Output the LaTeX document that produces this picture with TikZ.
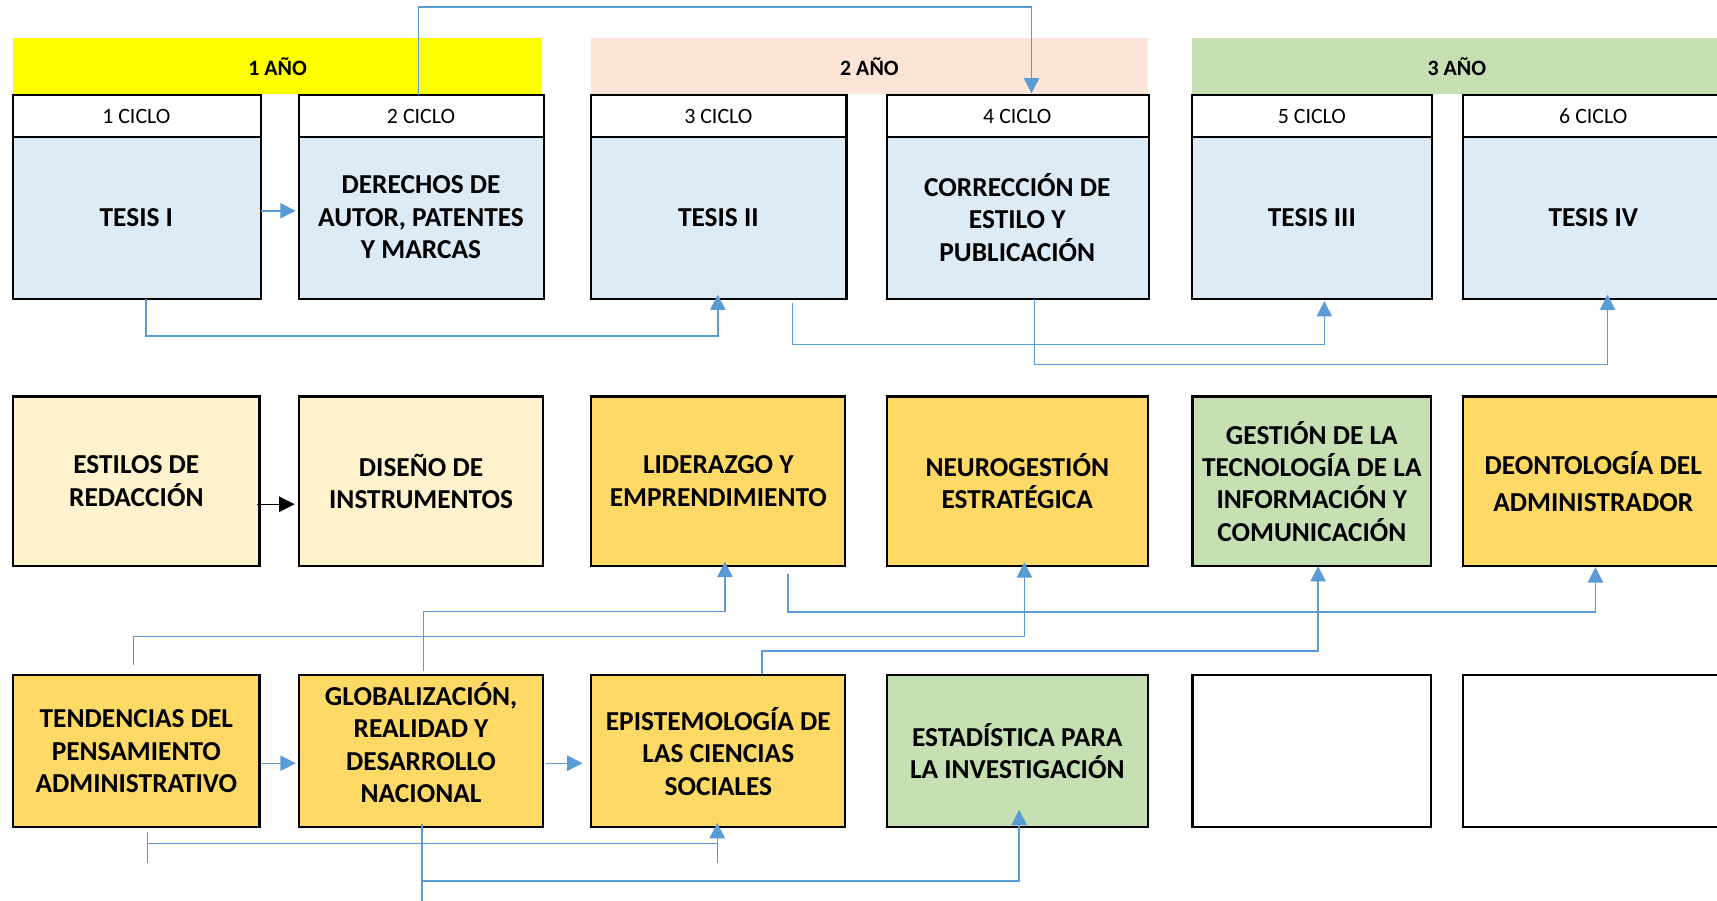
\documentclass[tikz,border=0pt]{standalone}
\usepackage{fontspec}
\setmainfont{Carlito}
\usetikzlibrary{arrows.meta}
\definecolor{bandY}{HTML}{FFFF00}
\definecolor{bandP}{HTML}{FCE4D6}
\definecolor{bandG}{HTML}{C6E0B4}
\definecolor{cblue}{HTML}{DDEBF7}
\definecolor{cpale}{HTML}{FFF2CC}
\definecolor{cgold}{HTML}{FFD966}
\definecolor{cgreen}{HTML}{C6E0B4}
\definecolor{lnblue}{HTML}{5B9BD5}
\begin{document}
\begin{tikzpicture}[x=1pt,y=-1pt,
  band/.style={rectangle, inner sep=0pt, minimum height=51pt, font=\fontsize{20}{24}\selectfont\bfseries},
  hdr/.style={rectangle, inner sep=0pt, fill=white, minimum height=38pt, font=\fontsize{20}{24}\selectfont},
  subj/.style={rectangle, draw=black, line width=2pt, inner sep=0pt, align=center, font=\fontsize{25}{29.6}\selectfont\bfseries},
  body/.style={subj, draw=none, minimum height=147pt, fill=cblue},
  txt/.style={inner sep=0pt, align=center, font=\fontsize{25}{29.6}\selectfont\bfseries},
  frame/.style={draw=black, line width=2pt},
  sep/.style={draw=black, line width=1.2pt},
  conn/.style={draw=lnblue, line width=1.3pt},
  arr/.style={-{Triangle[length=14pt,width=14pt]}},
  karr/.style={draw=black, line width=1pt, -{Triangle[length=14pt,width=14pt]}},
]
\useasboundingbox (0,0) rectangle (1568,822);
\clip (0,0) rectangle (1568,822);

% year bands
\node[band, fill=bandY, minimum width=483pt] (y1) at (253.5,60.5) {1 AÑO};
\node[band, fill=bandP, minimum width=508pt] (y2) at (794,60.5) {2 AÑO};
\node[band, fill=bandG, minimum width=483pt] (y3) at (1330.5,60.5) {3 AÑO};

% cycle headers
\node[hdr, minimum width=225pt] (h1) at (124.5,106) {1 CICLO};
\node[hdr, minimum width=223pt] (h2) at (384.5,106) {2 CICLO};
\node[hdr, minimum width=232pt] (h3) at (656,106) {3 CICLO};
\node[hdr, minimum width=238pt] (h4) at (929,106) {4 CICLO};
\node[hdr, minimum width=218pt] (h5) at (1198,106) {5 CICLO};
\node[hdr, minimum width=238pt] (h6) at (1455,106) {6 CICLO};

% row 1
\node[body, minimum width=225pt] (b1) at (124.5,198.5) {TESIS I};
\node[body, minimum width=223pt] (b2) at (384.5,198.5) {DERECHOS DE\\AUTOR, PATENTES\\Y MARCAS};
\node[body, minimum width=232pt] (b3) at (656,198.5) {TESIS II};
\node[body, minimum width=238pt] (b4) at (929,198.5) {CORRECCIÓN DE\\ESTILO Y\\PUBLICACIÓN};
\node[body, minimum width=218pt] (b5) at (1198,198.5) {TESIS III};
\node[body, minimum width=238pt] (b6) at (1455,198.5) {TESIS IV};
\foreach \i in {1,...,6}{
  \draw[frame] (h\i.north west) rectangle (b\i.south east);
  \draw[sep] (h\i.south west) -- (h\i.south east);
}

% row 2
\node[subj, fill=cpale, minimum width=225pt, minimum height=155pt] (e1) at (124.5,439.5) {ESTILOS DE\\REDACCIÓN};
\node[subj, fill=cpale, minimum width=223pt, minimum height=155pt] (e2) at (384.5,439.5) {DISEÑO DE\\INSTRUMENTOS};
\node[subj, fill=cgold, minimum width=232pt, minimum height=155pt] (e3) at (656,439.5) {LIDERAZGO Y\\EMPRENDIMIENTO};
\node[subj, fill=cgold, minimum width=238pt, minimum height=155pt] (e4) at (929,439.5) {NEUROGESTIÓN\\ESTRATÉGICA};
\node[subj, fill=cgreen, minimum width=218pt, minimum height=155pt] (e5) at (1198,439.5) {GESTIÓN DE LA\\TECNOLOGÍA DE LA\\INFORMACIÓN Y\\COMUNICACIÓN};
\node[subj, fill=cgold, minimum width=238pt, minimum height=155pt] (e6) at (1455,439.5) {DEONTOLOGÍA DEL\\[4.4pt]ADMINISTRADOR};

% row 3
\node[subj, fill=cgold, minimum width=225pt, minimum height=139pt] (t1) at (124.5,686) {TENDENCIAS DEL\\PENSAMIENTO\\ADMINISTRATIVO};
\node[subj, fill=cgold, minimum width=223pt, minimum height=139pt] (t2) at (384.5,686) {};
\node[txt] (t2txt) at (384.5,678) {GLOBALIZACIÓN,\\REALIDAD Y\\DESARROLLO\\NACIONAL};
\node[subj, fill=cgold, minimum width=232pt, minimum height=139pt] (t3) at (656,686) {EPISTEMOLOGÍA DE\\LAS CIENCIAS\\SOCIALES};
\node[subj, fill=cgreen, minimum width=238pt, minimum height=139pt] (t4) at (929,686) {ESTADÍSTICA PARA\\LA INVESTIGACIÓN};
\node[subj, fill=white, minimum width=218pt, minimum height=139pt] (t5) at (1198,686) {};
\node[subj, fill=white, minimum width=238pt, minimum height=139pt] (t6) at (1455,686) {};

% connectors, row 1
\draw[conn,arr] ([yshift=6pt]b1.east) -- ([xshift=-2pt,yshift=6pt]b2.west);
\draw[conn,arr] ([xshift=-2.5pt]h2.north) -- ++(0,-80.5) -| ([xshift=13pt,yshift=1.5pt]h4.north);
\draw[conn,arr] ([xshift=9pt]b1.south) -- ++(0,34) -| ([xshift=-0.5pt,yshift=4pt]b3.south);
\draw[conn,arr] ([xshift=67.7pt,yshift=-3.5pt]b3.south) -- ++(0,38) -| ([xshift=11.4pt,yshift=-2pt]b5.south);
\draw[conn,arr] ([xshift=15.6pt]b4.south) -- ++(0,60) -| ([xshift=13pt,yshift=4pt]b6.south);

% connectors, row 2
\draw[karr] ([xshift=-3.5pt,yshift=-21pt]e1.east) -- ([xshift=-3pt,yshift=-21pt]e2.west);
\draw[conn,arr] ([xshift=-2.5pt,yshift=8.5pt]t1.north) -- ++(0,-26) -| ([xshift=6.5pt,yshift=4.5pt]e4.south);
\draw[conn,arr] ([xshift=2.5pt,yshift=2.5pt]t2.north) -- ++(0,-54.5) -| ([xshift=6pt,yshift=5pt]e3.south);
\draw[conn,arr] ([xshift=63.5pt,yshift=-6pt]e3.south) -- ++(0,35) -| ([xshift=2pt]e6.south);
\draw[conn,arr] ([xshift=39.7pt]t3.north) -- ++(0,-21) -| ([xshift=5.7pt,yshift=1pt]e5.south);

% connectors, row 3
\draw[conn,arr] ([yshift=-11pt]t1.east) -- ([xshift=-2pt,yshift=-11pt]t2.west);
\draw[conn,arr] ([xshift=2pt,yshift=-11pt]t2.east) -- ([xshift=-7pt,yshift=-11pt]t3.west);
\draw[conn] ([xshift=10pt,yshift=-3pt]t1.south) -- ([xshift=10pt,yshift=-32pt]t1.south);
\draw[conn] ([xshift=10pt,yshift=-14pt]t1.south) -- ([xshift=-1pt,yshift=-14pt]t3.south);
\draw[conn,arr] ([xshift=-1pt,yshift=-32pt]t3.south) -- ([xshift=-1pt,yshift=5pt]t3.south);
\draw[conn] ([xshift=1pt,yshift=4pt]t2.south) -- ([xshift=1pt,yshift=-67pt]t2.south);
\draw[conn,arr] ([xshift=1pt,yshift=-48pt]t2.south) -| ([xshift=1.7pt,yshift=17pt]t4.south);
\end{tikzpicture}
\end{document}
